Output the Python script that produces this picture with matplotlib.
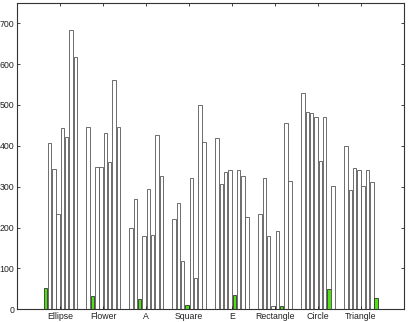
import numpy as np
import matplotlib
matplotlib.use("Agg")
from matplotlib import pyplot as plt

# --- Data: one row per category group, 8 bars each (diagonal bar is green) ---
categories = ["Ellipse", "Flower", "A", "Square", "E", "Rectangle", "Circle", "Triangle"]
ellipse = [52, 408, 343, 232, 443, 421, 684, 618]
flower = [447, 33, 349, 347, 431, 360, 561, 445]
a_vals = [198, 270, 26, 180, 294, 183, 427, 326]
square = [222, 259, 117, 10, 322, 76, 499, 410]
e_vals = [419, 306, 337, 340, 36, 340, 327, 225]
rectangle = [233, 322, 179, 8, 192, 7, 455, 313]
circle = [530, 483, 480, 470, 362, 471, 49, 301]
triangle = [400, 291, 345, 340, 301, 340, 311, 27]
yticks = [0, 100, 200, 300, 400, 500, 600, 700]

groups = [ellipse, flower, a_vals, square, e_vals, rectangle, circle, triangle]
n = len(categories)

plt.rcParams['font.family'] = ['Liberation Sans', 'DejaVu Sans']

fig = plt.figure(figsize=(4.09, 3.22), dpi=100)
ax = fig.add_axes([0.0423, 0.0394, 0.9455, 0.9522])

slot = 0.1
width = 0.08
for g, vals in enumerate(groups):
    for i, v in enumerate(vals):
        x = g + 1 + (i - (n - 1) / 2) * slot
        if i == g:
            face, edge = '#4ee014', '#333333'
        else:
            face, edge = 'white', '#555555'
        ax.bar(x, v, width=width, color=face, edgecolor=edge, linewidth=0.6)

ax.set_xlim(0, 9)
ax.set_ylim(0, 750)
ax.set_xticks(np.arange(1, n + 1))
ax.set_xticklabels(categories)
ax.set_yticks(yticks)
ax.tick_params(direction='in', length=2.5, width=0.6, labelsize=6.3, colors='#222222',
               top=True, right=True, pad=2)
for s in ax.spines.values():
    s.set_linewidth(0.8)
    s.set_color('#333333')

fig.savefig("out.png", dpi=100)
